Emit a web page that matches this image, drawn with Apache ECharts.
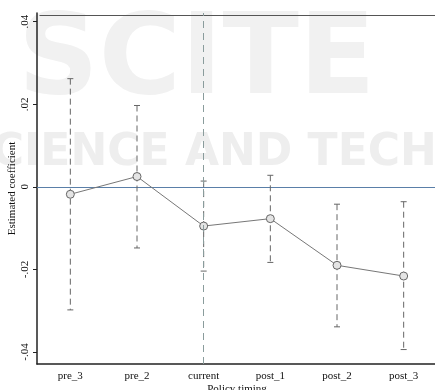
<!DOCTYPE html>
<html>
<head>
<meta charset="utf-8">
<script src="https://cdn.jsdelivr.net/npm/echarts@6/dist/echarts.min.js"></script>
<style>
  html,body{margin:0;padding:0;background:#fff;}
  #chart{width:435px;height:390px;}
</style>
</head>
<body>
<div id="chart"></div>
<script>
var categories = ['pre_3', 'pre_2', 'current', 'post_1', 'post_2', 'post_3'];
var coef = [-0.0018, 0.0025, -0.0095, -0.0077, -0.0190, -0.0216];
var upper = [0.0262, 0.0197, 0.0014, 0.0028, -0.0042, -0.0036];
var lower = [-0.0298, -0.0148, -0.0204, -0.0183, -0.0339, -0.0394];
var refValue = [0];
var yTicks = [-0.04, -0.02, 0, 0.02, 0.04];
var yTickLabels = ['-.04', '-.02', '0', '.02', '.04'];

function init(){
  var myChart = echarts.init(document.getElementById('chart'));

  var barData = categories.map(function(c, i){
    return [i, lower[i], upper[i]];
  });

  var font = 'Liberation Serif';

  var option = {
    animation: false,
    backgroundColor: '#fff',
    textStyle: {fontFamily: font},
    graphic: [
      {type: 'text', z: -10, left: 18, top: 8, style: {text: 'SCITE', font: 'bold 112px DejaVu Sans', fill: '#f1f1f1', letterSpacing: 8}},
      {type: 'text', z: -10, left: -40, top: 132, style: {text: 'SCIENCE AND TECHNOLOGY', font: 'bold 44px DejaVu Sans', fill: '#eeeeee', letterSpacing: 7}},
      {type: 'line', z: -10, silent: true, left: 37, top: 13, shape: {x1: 0, y1: 0, x2: 400, y2: 0}, style: {stroke: '#555', lineWidth: 1}}
    ],
    grid: {left: 37, top: 13, width: 400, bottom: 26, outerBoundsMode: 'none', containLabel: false},
    xAxis: {
      type: 'category',
      data: categories,
      name: 'Policy timing',
      nameLocation: 'middle',
      nameGap: 20,
      nameMoveOverlap: false,
      nameTextStyle: {fontFamily: font, fontSize: 11, color: '#111'},
      axisLine: {onZero: false, lineStyle: {color: '#222', width: 1.5}},
      axisTick: {alignWithLabel: true, length: 5, lineStyle: {color: '#222'}},
      axisLabel: {fontFamily: font, fontSize: 11, color: '#111', margin: 7},
      splitLine: {show: false}
    },
    yAxis: {
      type: 'value',
      min: -0.0429,
      max: 0.0421,
      name: 'Estimated coefficient',
      nameLocation: 'middle',
      nameGap: 19,
      nameMoveOverlap: false,
      nameTextStyle: {fontFamily: font, fontSize: 11, color: '#111'},
      axisLine: {show: true, lineStyle: {color: '#222', width: 1.5}},
      axisTick: {show: true, length: 4, customValues: yTicks, lineStyle: {color: '#222'}},
      axisLabel: {
        customValues: yTicks,
        rotate: 90,
        margin: 6,
        fontFamily: font,
        fontSize: 11,
        color: '#111',
        formatter: function(v){
          for (var i = 0; i < yTicks.length; i++) {
            if (Math.abs(v - yTicks[i]) < 1e-9) return yTickLabels[i];
          }
          return '';
        }
      },
      splitLine: {show: false}
    },
    series: [
      {
        // reference line at zero, full plot width
        type: 'custom',
        z: 1,
        silent: true,
        data: refValue.map(function(v){ return [0, v]; }),
        renderItem: function(params, api){
          var cs = params.coordSys;
          var y = Math.round(api.coord([0, api.value(1)])[1]) + 0.5;
          return {
            type: 'line',
            shape: {x1: cs.x, y1: y, x2: cs.x + cs.width, y2: y},
            style: {stroke: '#5a7fa8', lineWidth: 1}
          };
        }
      },
      {
        type: 'custom',
        z: 2,
        data: barData,
        renderItem: function(params, api){
          var lo = api.coord([api.value(0), api.value(1)]);
          var hi = api.coord([api.value(0), api.value(2)]);
          var cap = 3;
          var st = {stroke: '#666', lineWidth: 1};
          return {
            type: 'group',
            children: [
              {type: 'line', shape: {x1: hi[0], y1: hi[1], x2: lo[0], y2: lo[1]}, style: {stroke: '#666', lineWidth: 1, lineDash: [6, 4]}},
              {type: 'line', shape: {x1: hi[0] - cap, y1: hi[1], x2: hi[0] + cap, y2: hi[1]}, style: st},
              {type: 'line', shape: {x1: lo[0] - cap, y1: lo[1], x2: lo[0] + cap, y2: lo[1]}, style: st}
            ]
          };
        },
        markLine: {
          silent: true,
          symbol: 'none',
          label: {show: false},
          lineStyle: {color: '#8a9c9c', width: 1, type: [7, 5], opacity: 1},
          data: [{xAxis: 'current'}]
        }
      },
      {
        type: 'line',
        z: 3,
        data: coef,
        symbol: 'circle',
        symbolSize: 8,
        lineStyle: {color: '#777', width: 1},
        itemStyle: {color: '#e4e4e4', borderColor: '#666', borderWidth: 1}
      }
    ]
  };
  myChart.setOption(option);
}

init();
</script>
</body>
</html>
